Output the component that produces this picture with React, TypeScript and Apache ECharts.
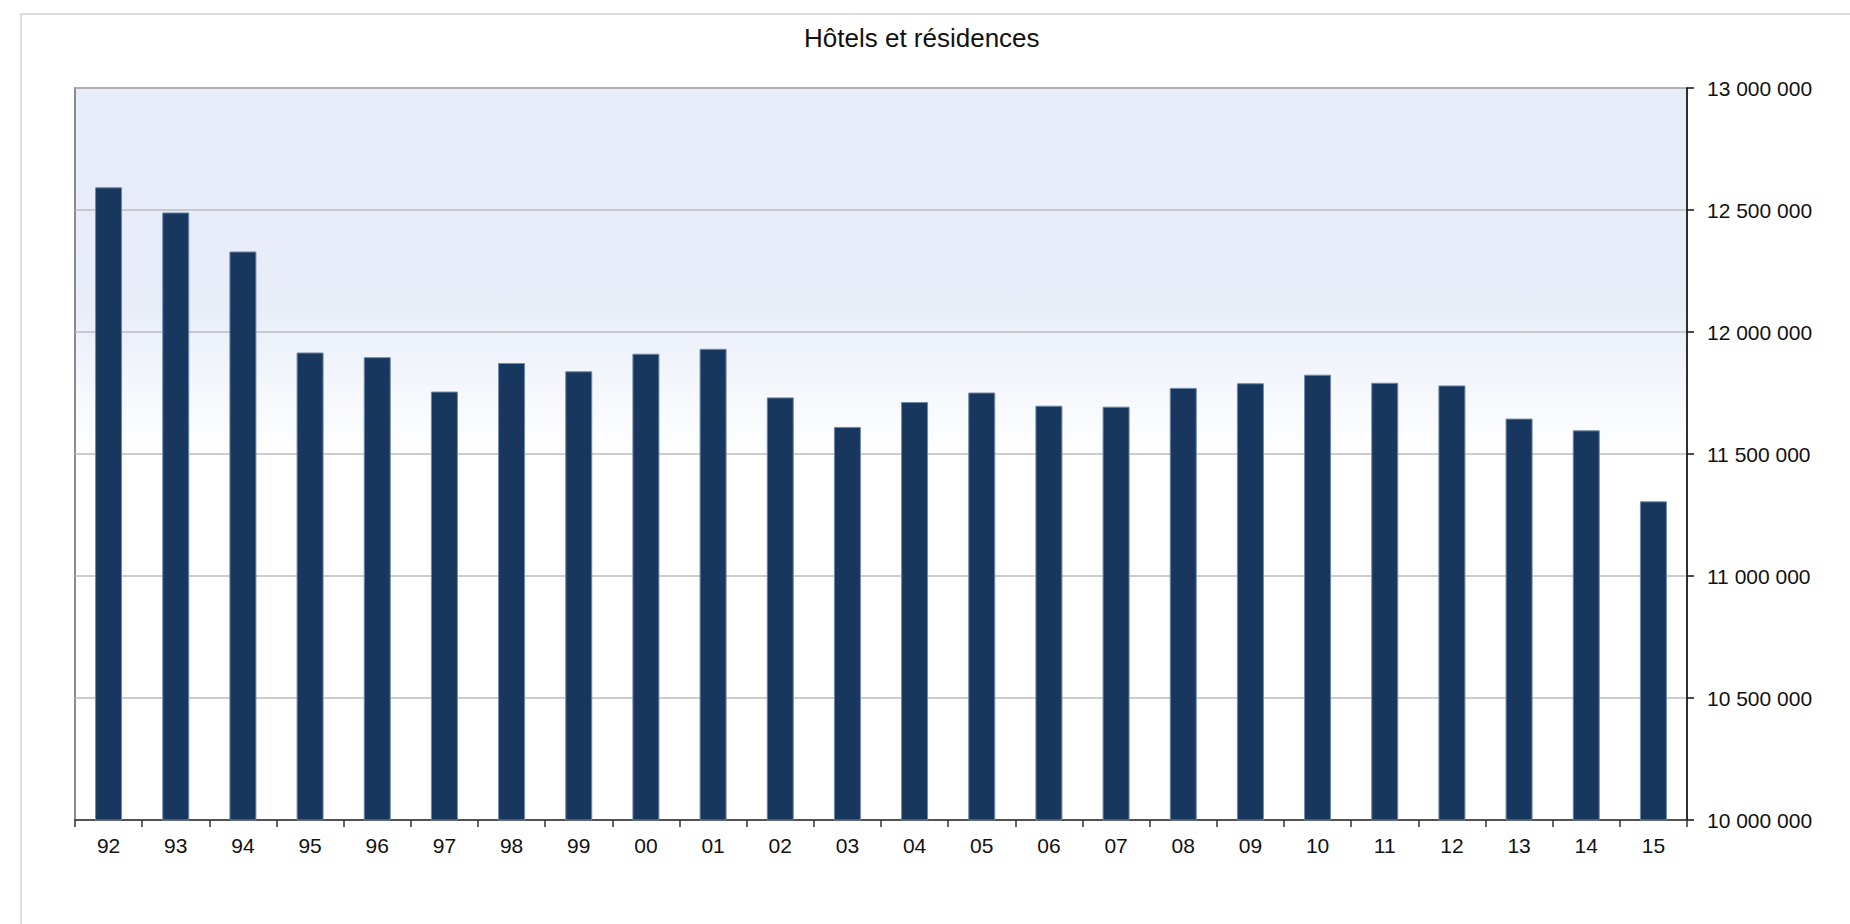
import React, { useEffect, useRef } from "react";
import * as echarts from "echarts";

const titleText = "Hôtels et résidences";
const categories = ["92","93","94","95","96","97","98","99","00","01","02","03","04","05","06","07","08","09","10","11","12","13","14","15"];
const values = [12593000, 12490000, 12330000, 11916000, 11897000, 11756000, 11873000, 11839000, 11911000, 11931000, 11732000, 11611000, 11713000, 11752000, 11698000, 11694000, 11771000, 11790000, 11825000, 11792000, 11781000, 11645000, 11597000, 11306000];
const yMin = 10000000;
const yMax = 13000000;
const yStep = 500000;

const fmt = (v: number) => String(Math.round(v)).replace(/\B(?=(\d{3})+(?!\d))/g, " ");

export default function App() {
  const ref = useRef<HTMLDivElement>(null);
  useEffect(() => {
    if (!ref.current) return;
    const chart = echarts.init(ref.current, null, { renderer: "svg" });
    const font = "'Liberation Sans', Arial, sans-serif";
    chart.setOption({
      animation: false,
      backgroundColor: "#ffffff",
      title: {
        text: titleText,
        left: 799,
        top: 20,
        textStyle: { fontFamily: font, fontSize: 26, fontWeight: "normal", color: "#111" },
      },
      graphic: [
        {
          type: "rect",
          z: -10,
          silent: true,
          shape: { x: 21, y: 14, width: 2000, height: 2000 },
          style: { fill: "none", stroke: "#dddddd", lineWidth: 2 },
        },
      ],
      grid: {
        left: 75,
        right: 163,
        top: 88,
        bottom: 104,
        show: true,
        backgroundColor: new echarts.graphic.LinearGradient(0, 0, 0, 1, [
          { offset: 0, color: "#e6ecf8" },
          { offset: 0.3, color: "#e8edf8" },
          { offset: 0.5, color: "#ffffff" },
          { offset: 1, color: "#ffffff" },
        ]),
        borderColor: "#8a8a8a",
        borderWidth: 2,
      },
      xAxis: {
        type: "category",
        data: categories,
        boundaryGap: true,
        axisLine: { show: true, lineStyle: { color: "#333", width: 1.5 } },
        axisTick: { show: true, length: 7, inside: false, lineStyle: { color: "#333", width: 1.5 } },
        axisLabel: { margin: 15, fontFamily: font, fontSize: 21, color: "#111" },
        splitLine: { show: false },
      },
      yAxis: {
        type: "value",
        position: "right",
        min: yMin,
        max: yMax,
        interval: yStep,
        axisLine: { show: true, lineStyle: { color: "#111", width: 1.5 } },
        axisTick: { show: true, length: 7, inside: false, lineStyle: { color: "#111", width: 1.5 } },
        axisLabel: { margin: 20, fontFamily: font, fontSize: 21, color: "#111", formatter: fmt },
        splitLine: { show: true, lineStyle: { color: "#bcbcbc", width: 1.5 } },
      },
      series: [
        {
          type: "bar",
          data: values,
          barWidth: 27,
          itemStyle: { color: "#17375e", borderColor: "#7088a6", borderWidth: 1 },
        },
      ],
    });
    return () => chart.dispose();
  }, []);
  return <div ref={ref} style={{ position: "fixed", left: 0, top: 0, width: 1850, height: 924 }} />;
}
